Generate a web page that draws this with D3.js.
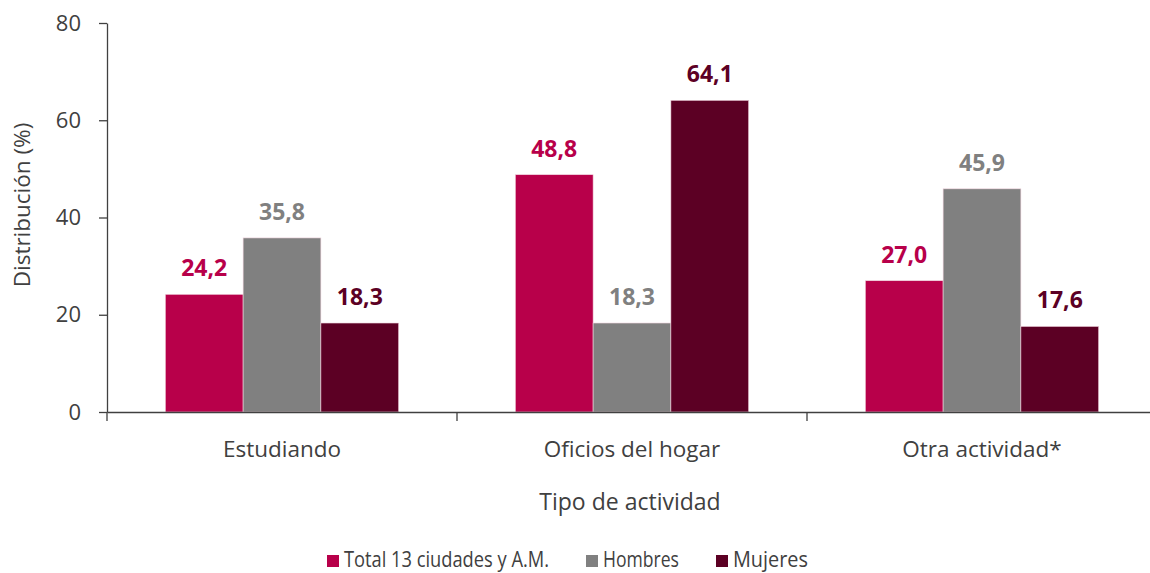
<!DOCTYPE html>
<html>
<head>
<meta charset="utf-8">
<script src="https://cdn.jsdelivr.net/npm/d3@7"></script>
<style>
  body { margin: 0; background: #fff; }
  text { font-family: "Open Sans", "Noto Sans", sans-serif; }
</style>
</head>
<body>
<div id="wrapper"></div>
<script>
const categories = ["Estudiando", "Oficios del hogar", "Otra actividad*"]
const seriesNames = ["Total 13 ciudades y A.M.", "Hombres", "Mujeres"]
const totalValues = [24.2, 48.8, 27.0]
const menValues = [35.8, 18.3, 45.9]
const womenValues = [18.3, 64.1, 17.6]
const yTicks = [0, 20, 40, 60, 80]
const colors = ["#b8004a", "#808080", "#5c0024"]

const seriesValues = [totalValues, menValues, womenValues]

const dimensions = {
    width: 1150,
    height: 573,
    margin: {top: 23, right: -7, bottom: 161, left: 107},
}
dimensions.boundedWidth = dimensions.width - dimensions.margin.left - dimensions.margin.right
dimensions.boundedHeight = dimensions.height - dimensions.margin.top - dimensions.margin.bottom

const svg = d3.select("#wrapper")
    .append("svg")
    .attr("width", dimensions.width)
    .attr("height", dimensions.height)

const bounds = svg.append("g")
    .attr("transform", `translate(${dimensions.margin.left}, ${dimensions.margin.top})`)

const xScale = d3.scaleBand()
    .domain(categories)
    .range([0, dimensions.boundedWidth])
    .paddingInner(0)
    .paddingOuter(0)

const innerScale = d3.scaleBand()
    .domain(d3.range(seriesNames.length))
    .range([xScale.bandwidth() / 6, xScale.bandwidth() * 5 / 6])

const yScale = d3.scaleLinear()
    .domain([0, 80])
    .range([dimensions.boundedHeight, 0])

// bars
const groups = bounds.selectAll(".group")
    .data(categories)
    .join("g")
    .attr("transform", d => `translate(${xScale(d)}, 0)`)

groups.selectAll("rect")
    .data((d, i) => seriesValues.map((vals, s) => ({s, v: vals[i]})))
    .join("rect")
    .attr("x", d => innerScale(d.s))
    .attr("width", innerScale.bandwidth())
    .attr("y", d => yScale(d.v))
    .attr("height", d => dimensions.boundedHeight - yScale(d.v))
    .attr("fill", d => colors[d.s])
    .attr("stroke", "#f2d6e0")
    .attr("stroke-width", 0.6)

groups.selectAll(".value")
    .data((d, i) => seriesValues.map((vals, s) => ({s, v: vals[i]})))
    .join("text")
    .attr("class", "value")
    .attr("x", d => innerScale(d.s) + innerScale.bandwidth() / 2)
    .attr("y", d => yScale(d.v) - 18)
    .attr("text-anchor", "middle")
    .attr("font-size", 23)
    .attr("font-weight", "bold")
    .attr("fill", d => colors[d.s])
    .text(d => d3.format(".1f")(d.v).replace(".", ","))

// axes
const yAxis = bounds.append("g")
    .call(d3.axisLeft(yScale).tickValues(yTicks).tickSize(8).tickPadding(18).tickSizeOuter(0))
yAxis.select(".domain").attr("stroke", "#404040").attr("stroke-width", 1.3)
yAxis.selectAll(".tick line").attr("stroke", "#404040").attr("stroke-width", 1.3)
yAxis.selectAll(".tick text").attr("font-size", 22).attr("fill", "#404040")
    .style("font-family", "'Open Sans', sans-serif")

const xAxis = bounds.append("g")
    .attr("transform", `translate(0, ${dimensions.boundedHeight})`)
    .call(d3.axisBottom(xScale).tickSize(0).tickPadding(29).tickSizeOuter(0))
xAxis.select(".domain").attr("stroke", "#404040").attr("stroke-width", 1.3)
xAxis.selectAll(".tick text").attr("font-size", 22.5).attr("fill", "#404040")
    .style("font-family", "'Open Sans', sans-serif")

// group separator ticks
xAxis.selectAll(".sep")
    .data(categories)
    .join("line")
    .attr("class", "sep")
    .attr("x1", d => xScale(d))
    .attr("x2", d => xScale(d))
    .attr("y1", 0)
    .attr("y2", 9)
    .attr("stroke", "#404040")
    .attr("stroke-width", 1.3)

// axis titles
bounds.append("text")
    .attr("x", dimensions.boundedWidth / 2 - 2)
    .attr("y", dimensions.boundedHeight + 98)
    .attr("text-anchor", "middle")
    .attr("font-size", 23)
    .attr("fill", "#404040")
    .text("Tipo de actividad")

svg.append("text")
    .attr("transform", `translate(30, 205) rotate(-90)`)
    .attr("text-anchor", "middle")
    .attr("font-size", 22.5)
    .attr("fill", "#404040")
    .text("Distribución (%)")

// legend
const legendX = [327, 586, 716]
const legendW = [205, 76, 75]
const legend = svg.append("g")
    .attr("transform", "translate(0, 555)")
const items = legend.selectAll("g")
    .data(seriesNames)
    .join("g")
    .attr("transform", (d, i) => `translate(${legendX[i]}, 0)`)
items.append("rect")
    .attr("width", 12)
    .attr("height", 12)
    .attr("fill", (d, i) => colors[i])
items.append("text")
    .attr("x", 17)
    .attr("y", 12)
    .attr("font-size", 21)
    .attr("textLength", (d, i) => legendW[i])
    .attr("lengthAdjust", "spacingAndGlyphs")
    .attr("fill", "#404040")
    .text(d => d)
</script>
</body>
</html>
